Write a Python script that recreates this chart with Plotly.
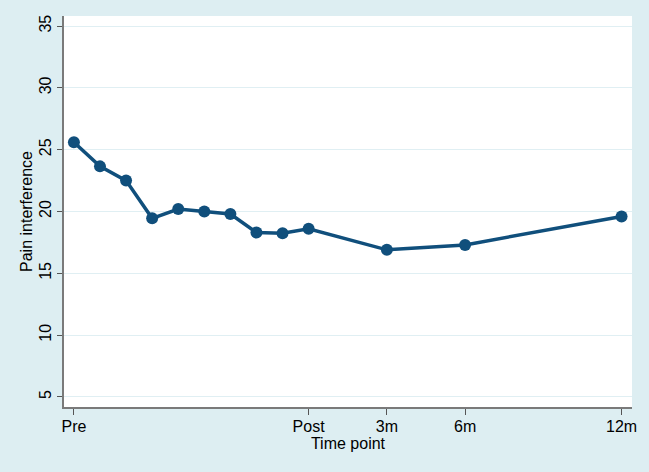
import plotly.graph_objects as go

x_pos = [0, 1, 2, 3, 4, 5, 6, 7, 8, 9, 12, 15, 21]
pain = [25.6, 23.65, 22.5, 19.45, 20.2, 20.0, 19.8, 18.3, 18.25, 18.6, 16.9, 17.3, 19.6]
tick_pos = [0, 9, 12, 15, 21]
tick_labels = ["Pre", "Post", "3m", "6m", "12m"]
y_ticks = [5, 10, 15, 20, 25, 30, 35]

navy = "#104F7C"
bg = "#DDEEF2"
font = "Liberation Sans, Arial, sans-serif"

fig = go.Figure()
fig.add_trace(go.Scatter(
    x=x_pos, y=pain, mode="lines+markers",
    line=dict(color=navy, width=3.5),
    marker=dict(color=navy, size=12),
    showlegend=False,
))

fig.update_layout(
    width=649, height=472,
    paper_bgcolor=bg, plot_bgcolor="white",
    margin=dict(l=64, r=17, t=16, b=65),
    font=dict(family=font, size=16, color="black"),
    xaxis=dict(
        range=[-0.38, 21.4], tickvals=tick_pos, ticktext=tick_labels,
        showgrid=False, zeroline=False,
        showline=True, linecolor="#7a7a7a", linewidth=1.5,
        ticks="outside", ticklen=6, tickcolor="#555555", tickwidth=1,
        ticklabelstandoff=-2,
        title=dict(text="Time point", standoff=0, font=dict(size=16)),
        tickfont=dict(size=16),
    ),
    yaxis=dict(
        range=[4.19, 35.81], tickvals=y_ticks,
        showgrid=True, gridcolor="#E0EFF3", gridwidth=1.2, zeroline=False,
        showline=True, linecolor="#7a7a7a", linewidth=1.5,
        ticks="outside", ticklen=5, tickcolor="#555555", tickwidth=1,
        tickangle=-90,
        title=dict(text="Pain interference", standoff=0, font=dict(size=16)),
        tickfont=dict(size=16),
    ),
)

fig.write_html(
    "out.html",
    config={"displayModeBar": False},
    post_script="document.body.style.margin='0';document.body.style.overflow='hidden';",
)
